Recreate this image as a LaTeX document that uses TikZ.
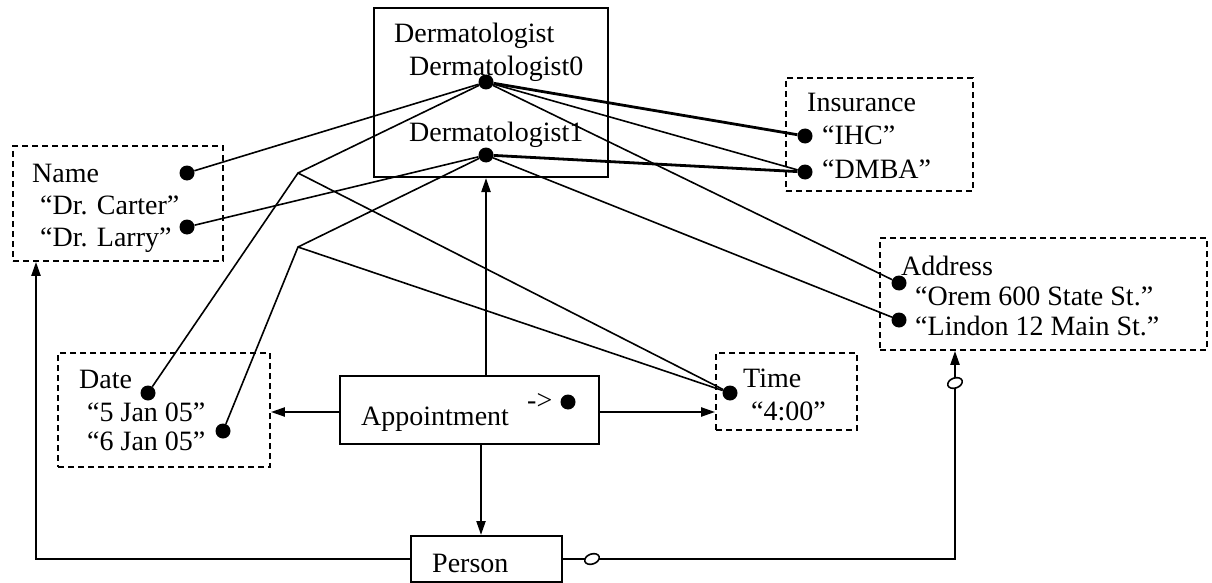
\documentclass[tikz,border=0pt]{standalone}
\usepackage{fontspec}
\setmainfont{Liberation Serif}
\usetikzlibrary{arrows.meta,shapes.geometric}
\begin{document}
\begin{tikzpicture}[x=1pt,y=-1pt,
  txt/.style={anchor=base west, inner sep=0pt, font=\fontsize{28}{32}\selectfont},
  solidbox/.style={draw, line width=2pt, inner sep=0pt},
  dashbox/.style={draw, line width=1.8pt, dash pattern=on 6pt off 4pt, inner sep=0pt},
  dot/.style={circle, fill=black, inner sep=0pt, minimum size=15pt},
  conn/.style={line width=1.6pt},
  thickconn/.style={line width=2.8pt},
  arr/.style={line width=2.2pt, -{Triangle[length=14pt,width=9pt]}},
  ring/.style={ellipse, draw, fill=white, line width=1.6pt, inner sep=0pt, minimum width=15pt, minimum height=10pt}]
\useasboundingbox (0,0) rectangle (1212,583);
% boxes
\node[solidbox, minimum width=234pt, minimum height=169pt] (derm) at (491,92.5) {};
\node[dashbox, minimum width=210pt, minimum height=115pt] (namebox) at (118,203.5) {};
\node[dashbox, minimum width=187pt, minimum height=113pt] (ins) at (879.5,134.5) {};
\node[dashbox, minimum width=327pt, minimum height=112pt] (addr) at (1043.5,294) {};
\node[dashbox, minimum width=212pt, minimum height=114pt] (date) at (164,410) {};
\node[solidbox, minimum width=259pt, minimum height=68pt] (appt) at (469.5,410) {};
\node[dashbox, minimum width=141pt, minimum height=77pt] (time) at (786.5,391.5) {};
\node[solidbox, minimum width=151pt, minimum height=46pt] (person) at (486.5,559) {};
% texts
\node[txt] (tderm) at (394,43) {Dermatologist};
\node[txt] (td0) at (409,76) {Dermatologist0};
\node[txt] (td1) at (409,142) {Dermatologist1};
\node[txt] (tname) at (32,182) {Name};
\node[txt] (tcarter) at (40,214) {“Dr. Carter”};
\node[txt] (tlarry) at (40,246) {“Dr. Larry”};
\node[txt] (tins) at (807,112) {Insurance};
\node[txt] (tihc) at (822,145) {“IHC”};
\node[txt] (tdmba) at (822,178) {“DMBA”};
\node[txt] (taddr) at (901,275) {Address};
\node[txt] (torem) at (915,305) {“Orem 600 State St.”};
\node[txt] (tlindon) at (915,335) {“Lindon 12 Main St.”};
\node[txt] (tdate) at (79,388) {Date};
\node[txt] (tjan5) at (87,421) {“5 Jan 05”};
\node[txt] (tjan6) at (87,450) {“6 Jan 05”};
\node[txt] (ttime) at (743,387) {Time};
\node[txt] (tfour) at (751,420) {“4:00”};
\node[txt] (tappt) at (361,425) {Appointment};
\node[txt] (tptr) at (527,409) {->};
\node[txt] (tperson) at (432,572) {Person};
% dots
\node[dot] (d0) at (486,82) {};
\node[dot] (d1) at (486,155) {};
\node[dot] (ncarter) at (187,173) {};
\node[dot] (nlarry) at (187,227) {};
\node[dot] (iihc) at (805,136) {};
\node[dot] (idmba) at (805,172) {};
\node[dot] (aorem) at (899,283) {};
\node[dot] (alindon) at (899,320) {};
\node[dot] (dj5) at (148,393) {};
\node[dot] (dj6) at (223,431) {};
\node[dot] (tm) at (730,393) {};
\node[dot] (ap) at (568,402) {};
\coordinate (v1) at (298,173);
\coordinate (v2) at (298,247);
% connectors
\draw[conn] (d0) -- (ncarter);
\draw[conn] (d0) -- (v1) -- (dj5);
\draw[conn] (v1) -- (tm);
\draw[thickconn] (d0) -- (iihc);
\draw[conn] (d0) -- (idmba);
\draw[conn] (d0) -- (aorem);
\draw[conn] (d1) -- (nlarry);
\draw[conn] (d1) -- (v2) -- (dj6);
\draw[conn] (v2) -- (tm);
\draw[thickconn] (d1) -- (idmba);
\draw[conn] (d1) -- (alindon);
% arrows
\coordinate (ay) at (0,412);
\coordinate (dx) at (481,0);
\coordinate (lc) at (36,559);
\coordinate (rc) at (955,559);
\draw[arr] (appt.north -| d1) -- (derm.south -| d1);
\draw[arr] (appt.west |- ay) -- (date.east |- ay);
\draw[arr] (appt.east |- ay) -- (time.west |- ay);
\draw[arr] (appt.south -| dx) -- (person.north -| dx);
\draw[arr] (person.west) -- (lc) -- (lc |- namebox.south);
\draw[arr] (person.east) -- (rc) -- (rc |- addr.south);
\node[ring, rotate=20] (r1) at (592,559) {};
\node[ring, rotate=20] (r2) at (955,383) {};
\end{tikzpicture}
\end{document}
